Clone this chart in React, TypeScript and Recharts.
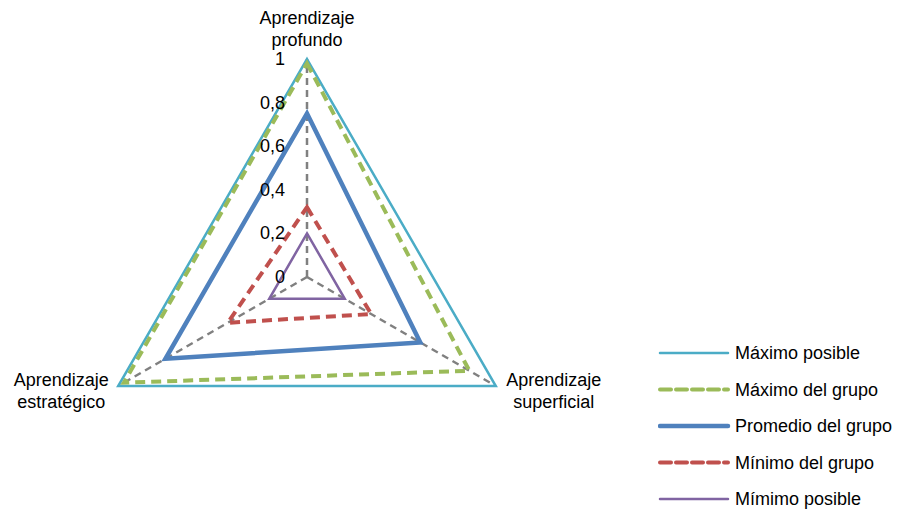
import React from "react";
import {
  Legend,
  PolarAngleAxis,
  PolarGrid,
  PolarRadiusAxis,
  Radar,
  RadarChart,
} from "recharts";

const categories = [
  "Aprendizaje profundo",
  "Aprendizaje superficial",
  "Aprendizaje estratégico",
];
const maximoPosible = [1, 1, 1];
const maximoGrupo = [0.98, 0.86, 0.97];
const promedioGrupo = [0.75, 0.6, 0.75];
const minimoGrupo = [0.32, 0.34, 0.42];
const minimoPosible = [0.2, 0.2, 0.2];
const radiusTicks = [0, 0.2, 0.4, 0.6, 0.8, 1];

const data = categories.map((name, i) => ({
  name,
  maxPos: maximoPosible[i],
  maxGrp: maximoGrupo[i],
  avg: promedioGrupo[i],
  minGrp: minimoGrupo[i],
  minPos: minimoPosible[i],
}));

const FONT = '"Liberation Sans", Arial, sans-serif';

const series = [
  { key: "maxPos", name: "Máximo posible", color: "#4BACC6", width: 2.5, dash: undefined },
  { key: "maxGrp", name: "Máximo del grupo", color: "#9BBB59", width: 4, dash: "10 6" },
  { key: "avg", name: "Promedio del grupo", color: "#4F81BD", width: 4.5, dash: undefined },
  { key: "minGrp", name: "Mínimo del grupo", color: "#C0504D", width: 4, dash: "10 6" },
  { key: "minPos", name: "Mímimo posible", color: "#8064A2", width: 2.5, dash: undefined },
];

function AngleTick(props: any) {
  const { x, y, payload } = props;
  const idx = payload.index ?? categories.indexOf(payload.value);
  const [first, second] = String(payload.value).split(" ");
  let tx = x;
  let y1 = y;
  if (idx === 0) {
    y1 = y - 27;
  } else if (idx === 1) {
    tx = x + 51;
    y1 = y - 4;
  } else {
    tx = x - 50;
    y1 = y - 4;
  }
  return (
    <text x={tx} y={y1} textAnchor="middle" fontFamily={FONT} fontSize={18} fill="#000">
      <tspan x={tx} y={y1}>{first}</tspan>
      <tspan x={tx} y={y1 + 22}>{second}</tspan>
    </text>
  );
}

function RadiusTick(props: any) {
  const { x, y, payload } = props;
  return (
    <text x={x - 22} y={y + 6} textAnchor="end" fontFamily={FONT} fontSize={18} fill="#000">
      {String(payload.value).replace(".", ",")}
    </text>
  );
}

function LegendContent() {
  return (
    <svg width={245} height={175}>
      {series.map((s, i) => {
        const y = 13 + i * 36.5;
        return (
          <g key={s.key}>
            <line
              x1={2}
              x2={70}
              y1={y}
              y2={y}
              stroke={s.color}
              strokeWidth={s.width}
              strokeDasharray={s.dash ? "11 5" : undefined}
              strokeLinecap="round"
            />
            <text x={77} y={y + 6} fontFamily={FONT} fontSize={18} fill="#000">
              {s.name}
            </text>
          </g>
        );
      })}
    </svg>
  );
}

export default function App() {
  return (
    <div style={{ position: "absolute", left: 0, top: 0, width: 905, height: 514, background: "#fff" }}>
      <RadarChart
        width={905}
        height={514}
        data={data}
        cx={307}
        cy={277}
        outerRadius={218}
        margin={{ top: 0, right: 0, bottom: 0, left: 0 }}
      >
        <PolarGrid
          polarRadius={[]}
          stroke="#808080"
          strokeWidth={2.5}
          strokeDasharray="7 5"
        />
        <PolarAngleAxis dataKey="name" axisLine={false} tickLine={false} tick={<AngleTick />} />
        <PolarRadiusAxis
          angle={90}
          domain={[0, 1]}
          ticks={radiusTicks}
          axisLine={false}
          tickLine={false}
          tick={<RadiusTick />}
        />
        {series.map((s) => (
          <Radar
            key={s.key}
            dataKey={s.key}
            name={s.name}
            stroke={s.color}
            strokeWidth={s.width}
            strokeDasharray={s.dash}
            strokeLinejoin="miter"
            fill="none"
            fillOpacity={0}
            dot={false}
            isAnimationActive={false}
          />
        ))}
        <Legend
          layout="vertical"
          content={<LegendContent />}
          wrapperStyle={{ left: 658, top: 340, width: 245 }}
        />
      </RadarChart>
    </div>
  );
}
